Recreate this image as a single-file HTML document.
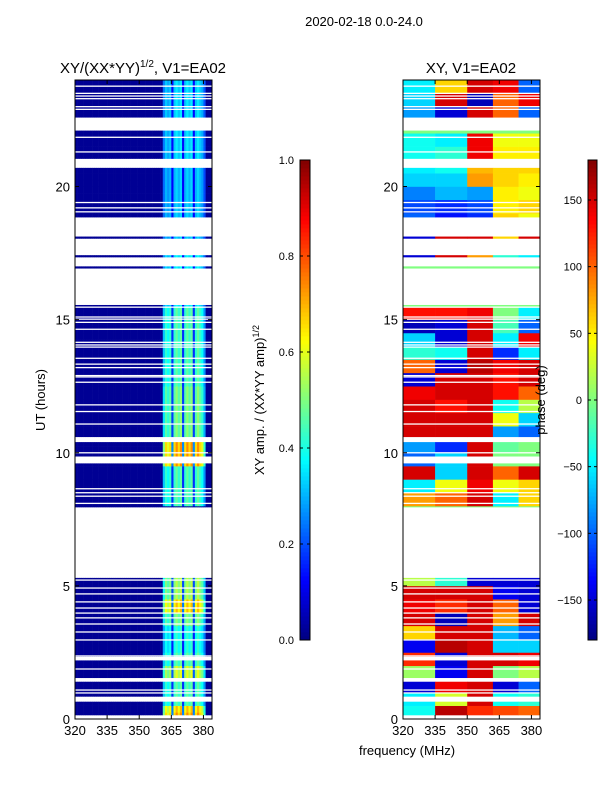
<!DOCTYPE html>
<html><head><meta charset="utf-8">
<style>
html,body{margin:0;padding:0;background:#fff;}
svg{display:block;font-family:"Liberation Sans","DejaVu Sans",sans-serif;}
</style></head>
<body>
<svg id="fig" width="600" height="800" viewBox="0 0 600 800" xmlns="http://www.w3.org/2000/svg">
<rect width="600" height="800" fill="#fff"/>
<text x="364" y="26" font-size="13" text-anchor="middle">2020-02-18 0.0-24.0</text>
<text x="143" y="73" font-size="15" text-anchor="middle">XY/(XX*YY)<tspan font-size="10" dy="-6">1/2</tspan><tspan dy="6">, V1=EA02</tspan></text>
<text x="471" y="73" font-size="15" text-anchor="middle">XY, V1=EA02</text>
<g id="ampPanel"></g>
<g id="phPanel"></g>
<g id="axes"></g>
<text transform="translate(45,400) rotate(-90)" font-size="13" text-anchor="middle">UT (hours)</text>
<text x="407" y="755" font-size="13" text-anchor="middle">frequency (MHz)</text>
<text transform="translate(264,400) rotate(-90)" font-size="13" text-anchor="middle">XY amp. / (XX*YY amp)<tspan font-size="9" dy="-5">1/2</tspan></text>
<text transform="translate(545,400) rotate(-90)" font-size="13" text-anchor="middle">phase (deg)</text>
</svg>
<script>
// ---- data ----
const hourRange = [0, 24];
const freqRange = [320, 384];
const xTicks = [320, 335, 350, 365, 380];
const yTicks = [0, 5, 10, 15, 20];
const dataBlocks = [[0.15,0.65],[0.85,1.4],[1.55,2.2],[2.35,5.3],[7.96,9.6],[9.87,10.4],[10.6,15.55],[16.93,17.0],[17.35,17.42],[18.05,18.12],[18.85,20.7],[21.05,22.1],[22.6,24]];
const gapLines = [23.77,23.5,23.4,23.3,23.0,22.9,21.85,21.3,19.4,19.2,19.05,15.47,15.1,15.02,14.9,14.64,14.15,14.05,13.97,13.55,13.33,13.2,12.9,12.85,12.65,11.8,11.55,11.08,10.0,8.65,8.5,8.37,8.1,5.22,4.92,4.7,4.4,4.17,3.98,3.8,3.57,3.27,2.97,2.37,1.88,1.09,0.98];
// amplitude: 1 MHz channels 320..383, 0.25 hr rows
const ampBase = 0.02;
const ampBandStart = 361;
const ampBand = [0.3,0.4,0.36,0.4,0.15,0.4,0.45,0.4,0.45,0.15,0.4,0.45,0.4,0.45,0.15,0.4,0.45,0.4,0.36,0.25];
const ampGain = [1.6,1.5,1.0,1.0, 1.0,1.0,1.3,1.3, 1.0,1.0,0.9,0.9, 0.9,0.9,1.1,1.1, 1.5,1.5,1.2,1.2, 1.2,1.2,0,0,
 0,0,0,0, 0,0,0,0, 1.0,1.0,1.0,1.0, 1.0,1.0,1.6,1.6, 1.6,1.6,1.1,1.1, 1.1,1.1,1.1,1.1,
 1.1,1.1,1.0,1.0, 1.0,1.0,1.0,1.0, 1.0,1.0,1.0,1.0, 1.0,1.0,0.8,0.8, 0.8,0.8,0.8,0.8, 0.8,0.8,0.8,0.8,
 0.7,0.7,0.7,0.7, 0.7,0.7,0.7,0.7, 0.7,0.7,0.7,0.7, 0.75,0.75,0.75,0.75, 0.75,0.75,0.75,0.75, 0.75,0.75,0.75,0.75];
// phase: 5 frequency segments, 0.5 hr rows
const phaseSegEdges = [320,335,350,362,374,384];
const phaseRows = [
[-40,160,120,110,100],[-50,30,150,-40,-30],[-150,140,150,-150,-100],[10,-140,150,0,20],
[120,-150,150,150,140],[-140,160,150,-60,-60],[60,150,150,-70,-100],[150,-160,150,80,150],
[140,120,150,100,-150],[150,150,150,-140,-150],[20,-30,-150,-150,-150],[0,0,0,0,0],
[0,0,0,0,0],[0,0,0,0,0],[0,0,0,0,0],[0,0,0,0,0],
[80,100,150,-50,60],[-50,40,140,40,60],[150,-60,150,100,150],[-100,-60,150,0,0],
[-80,-120,150,-10,0],[150,150,150,-80,-100],[150,150,150,40,-60],[150,130,150,-40,20],
[140,150,150,130,100],[-150,150,150,130,150],[100,-150,160,140,150],[-30,-40,150,-120,-50],
[-60,-150,150,-50,140],[-160,-150,150,-20,-100],[130,130,140,0,-50],[0,0,0,0,0],
[0,0,0,0,0],[0,0,0,0,0],[-150,150,80,-30,-50],[0,0,0,0,0],
[-150,150,150,60,150],[-100,-130,-120,60,40],[-110,-120,-110,50,60],[-90,-70,-80,50,40],
[-60,-60,80,60,50],[-50,-40,70,60,60],[-40,-30,140,50,50],[-40,-50,140,40,40],
[0,0,0,0,0],[-80,-150,150,100,-100],[-60,150,-160,100,140],[-50,60,150,140,-100]];
const ampCbTicks = [0.0,0.2,0.4,0.6,0.8,1.0];
const phCbTicks = [-150,-100,-50,0,50,100,150];

// ---- geometry ----
const NS='http://www.w3.org/2000/svg';
const P1={x0:75,x1:212}, P2={x0:403,x1:540}, Y0=719, Y1=80;
function yS(h){return Y0-(h-hourRange[0])/(hourRange[1]-hourRange[0])*(Y0-Y1);}
function xS(P,f){return P.x0+(f-freqRange[0])/(freqRange[1]-freqRange[0])*(P.x1-P.x0);}
function jet(v){v=Math.max(0,Math.min(1,v));
 function c(x){return Math.round(255*Math.max(0,Math.min(1,x)));}
 const r=1.5-Math.abs(4*v-3), g=1.5-Math.abs(4*v-2), b=1.5-Math.abs(4*v-1);
 return 'rgb('+c(r)+','+c(g)+','+c(b)+')';}
function mk(tag,attrs,parent){const e=document.createElementNS(NS,tag);for(const k in attrs)e.setAttribute(k,attrs[k]);parent.appendChild(e);return e;}
function clipRows(h0,h1,cb){for(const b of dataBlocks){const a=Math.max(h0,b[0]),z=Math.min(h1,b[1]);if(z>a)cb(a,z);}}

// amplitude
const ampG=document.getElementById('ampPanel');
for(let r=0;r<ampGain.length;r++){
 clipRows(r*0.25,(r+1)*0.25,function(a,z){
  for(let f=freqRange[0];f<freqRange[1];f++){
   const bi=f-ampBandStart;
   const v=ampBase+((bi>=0&&bi<ampBand.length)?ampBand[bi]*ampGain[r]:0);
   const x0=xS(P1,f),x1=xS(P1,f+1),ya=yS(z),yb=yS(a);
   const el=mk('rect',{x:x0.toFixed(2),y:ya.toFixed(2),width:(x1-x0+0.3).toFixed(2),height:(yb-ya+0.3).toFixed(2),fill:jet(v)},ampG);
   
   
  }});
}
// phase
const phG=document.getElementById('phPanel');
for(let r=0;r<phaseRows.length;r++){
 clipRows(r*0.5,(r+1)*0.5,function(a,z){
  for(let s=0;s<phaseSegEdges.length-1;s++){
   const x0=xS(P2,phaseSegEdges[s]),x1=xS(P2,phaseSegEdges[s+1]),ya=yS(z),yb=yS(a);
   const el=mk('rect',{x:x0.toFixed(2),y:ya.toFixed(2),width:(x1-x0+0.3).toFixed(2),height:(yb-ya+0.3).toFixed(2),fill:jet((phaseRows[r][s]+180)/360)},phG);
   
   
  }});
}
// gap lines
for(const P of [P1,P2]){
 for(const h of gapLines){
  const el=mk('rect',{x:P.x0,y:(yS(h)-0.6).toFixed(2),width:P.x1-P.x0,height:1.3,fill:'#fff'},P===P1?ampG:phG);
  
  
 }
}
// axes
const ax=document.getElementById('axes');
for(const P of [P1,P2]){
 const fr=mk('rect',{x:P.x0,y:Y1,width:P.x1-P.x0,height:Y0-Y1,fill:'none',stroke:'#000','stroke-width':1},ax);
 
 
 for(const t of xTicks){
  const x=xS(P,t);
  mk('line',{x1:x,x2:x,y1:Y0,y2:Y0-4,stroke:'#000'},ax);
  mk('line',{x1:x,x2:x,y1:Y1,y2:Y1+4,stroke:'#000'},ax);
  const tx=mk('text',{x:x,y:Y0+16,'font-size':13,'text-anchor':'middle'},ax);
  tx.textContent=t;
  
  
 }
 for(const t of yTicks){
  const y=yS(t);
  mk('line',{x1:P.x0,x2:P.x0+4,y1:y,y2:y,stroke:'#000'},ax);
  mk('line',{x1:P.x1,x2:P.x1-4,y1:y,y2:y,stroke:'#000'},ax);
  const tx=mk('text',{x:P.x0-5,y:y+5,'font-size':13,'text-anchor':'end'},ax);
  tx.textContent=t;
  
  
 }
}
// colorbars
function colorbar(x,w,vmin,vmax,ticks,fmt,name){
 const yt=160,yb=640,n=120;
 for(let i=0;i<n;i++){
  const v=(i+0.5)/n;
  const el=mk('rect',{x:x,y:(yb-(i+1)*(yb-yt)/n).toFixed(2),width:w,height:((yb-yt)/n+0.4).toFixed(2),fill:jet(v)},ax);
  
  
 }
 const fr=mk('rect',{x:x,y:yt,width:w,height:yb-yt,fill:'none',stroke:'#000'},ax);
 
 
 for(const t of ticks){
  const y=yb-(t-vmin)/(vmax-vmin)*(yb-yt);
  mk('line',{x1:x,x2:x+3,y1:y,y2:y,stroke:'#000'},ax);
  mk('line',{x1:x+w,x2:x+w-3,y1:y,y2:y,stroke:'#000'},ax);
  const tx=mk('text',{x:x-6,y:y+4,'font-size':11,'text-anchor':'end'},ax);
  tx.textContent=fmt(t);
  
  
 }
}
colorbar(300,10,0,1,ampCbTicks,t=>t.toFixed(1),'amp-colorbar');
colorbar(588,9,-180,180,phCbTicks,t=>(t<0?'\u2212'+(-t):''+t),'phase-colorbar');
</script>
</body></html>
